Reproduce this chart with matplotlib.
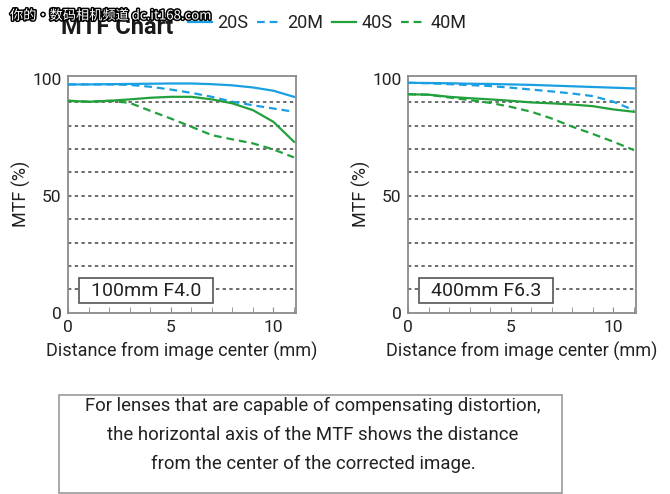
import matplotlib
matplotlib.use("Agg")
import matplotlib.pyplot as plt
import matplotlib.patheffects as pe
from matplotlib.patches import Rectangle

plt.rcParams['font.family'] = ['Roboto', 'DejaVu Sans']

# ---- data ----
distance = [0, 1, 2, 3, 4, 5, 6, 7, 8, 9, 10, 11]

lens1_label = "100mm F4.0"
lens1_20S = [97.6, 97.6, 97.7, 97.8, 97.9, 98.0, 98.0, 97.7, 97.2, 96.3, 94.9, 92.3]
lens1_20M = [97.6, 97.6, 97.6, 97.4, 96.6, 95.4, 94.0, 92.3, 90.2, 88.7, 87.3, 85.9]
lens1_40S = [90.6, 90.2, 90.6, 91.2, 91.9, 92.3, 92.3, 91.2, 89.5, 86.6, 81.6, 73.1]
lens1_40M = [90.6, 90.2, 90.6, 89.7, 86.3, 83.0, 79.5, 75.9, 74.1, 72.4, 69.8, 66.4]

lens2_label = "400mm F6.3"
lens2_20S = [98.3, 98.2, 98.1, 97.9, 97.8, 97.6, 97.4, 97.1, 96.8, 96.5, 96.2, 95.9]
lens2_20M = [98.3, 98.1, 97.7, 97.3, 96.9, 96.2, 95.4, 94.6, 93.7, 92.6, 90.2, 86.6]
lens2_40S = [93.4, 93.2, 92.3, 91.7, 91.2, 90.6, 89.9, 89.5, 89.0, 88.3, 86.9, 85.9]
lens2_40M = [93.4, 93.2, 92.0, 90.9, 89.7, 88.0, 85.9, 83.0, 79.5, 76.4, 73.1, 69.5]

series_names = ["20S", "20M", "40S", "40M"]
y_ticks = [0, 50, 100]
x_ticks = [0, 5, 10]
grid_levels = [10, 20, 30, 40, 50, 60, 70, 80, 90]

title_text = "MTF Chart"
watermark_text = "你的·数码相机频道 dc.it168.com"
note_lines = ["For lenses that are capable of compensating distortion,",
              "the horizontal axis of the MTF shows the distance",
              "from the center of the corrected image."]

# ---- style ----
BLUE = "#1a9fe3"
GREEN = "#22a03c"
styles = {
    "20S": dict(color=BLUE, ls="-"),
    "20M": dict(color=BLUE, ls=(0, (3.5, 2.2))),
    "40S": dict(color=GREEN, ls="-"),
    "40M": dict(color=GREEN, ls=(0, (3.5, 2.2))),
}
TXT = "#222222"
SPINE = "#8a8a8a"

fig = plt.figure(figsize=(6.7, 4.94), dpi=100)
fig.patch.set_facecolor("white")

W, H = 670.0, 494.0
ax_w = (296 - 68.3) / W
ax_b = 1 - 312.7 / H
ax_h = (312.7 - 76) / H
positions = [68.3 / W, 408.3 / W]

lenses = [
    (lens1_label, [lens1_20S, lens1_20M, lens1_40S, lens1_40M]),
    (lens2_label, [lens2_20S, lens2_20M, lens2_40S, lens2_40M]),
]

handles = []
for i, (label, series) in enumerate(lenses):
    ax = fig.add_axes([positions[i], ax_b, ax_w, ax_h])
    ax.set_xlim(0, 11.1)
    ax.set_ylim(0, 101.2)
    for g in grid_levels:
        ax.axhline(g, color="#444444", lw=1.1, ls=(0, (2.2, 2.2)), zorder=1)
    hs = []
    for name, vals in zip(series_names, series):
        h, = ax.plot(distance, vals, lw=1.6, label=name, zorder=3, **styles[name])
        hs.append(h)
    if i == 0:
        handles = hs
    for s in ax.spines.values():
        s.set_color(SPINE)
        s.set_linewidth(1.3)
    ax.set_yticks(y_ticks)
    ax.set_xticks(x_ticks)
    ax.set_xticks(range(0, 12), minor=True)
    ax.tick_params(axis="y", length=0, labelsize=12.5, labelcolor=TXT, pad=5)
    ax.tick_params(axis="x", which="both", direction="in", length=4, color=SPINE,
                   labelsize=12.5, labelcolor=TXT, pad=5)
    ax.set_ylabel("MTF (%)", fontsize=13, color=TXT, labelpad=1)
    ax.set_xlabel("Distance from image center (mm)", fontsize=13, color=TXT, labelpad=5)
    # lens label box
    ax.add_patch(Rectangle((0.52, 4.1), 6.53, 10.7, facecolor="white",
                           edgecolor="#555555", lw=1.2, zorder=4))
    ax.text(3.79, 9.3, label, fontsize=14, color=TXT, va="center", ha="center",
            zorder=5)

# title and watermark
fig.text(61 / W, 1 - 27 / H, title_text, fontsize=17, fontweight="bold",
         color="#1a1a1a", va="center", ha="left")
fig.text(10 / W, 1 - 16 / H, watermark_text, fontsize=9.5, color="white",
         va="center", ha="left",
         family=["Noto Sans CJK SC", "DejaVu Sans"],
         path_effects=[pe.withStroke(linewidth=2.2, foreground="black")])

# legend
fig.legend(handles=handles, labels=series_names, loc="center left",
           bbox_to_anchor=(188 / W, 1 - 23 / H), ncol=4, frameon=False,
           fontsize=13, handlelength=1.35, handletextpad=0.28, columnspacing=0.5,
           borderpad=0, borderaxespad=0, labelcolor=TXT)

# note box
fig.patches.append(Rectangle((59 / W, 1 - 493 / H), (562 - 59) / W, (493 - 395) / H,
                             transform=fig.transFigure, facecolor="white",
                             edgecolor="#9a9a9a", lw=1.2))
for k, line in enumerate(note_lines):
    fig.text(313 / W, 1 - (406 + 29 * k) / H, line, fontsize=13.4, color=TXT,
             ha="center", va="center")

fig.savefig("out.png", dpi=100)
